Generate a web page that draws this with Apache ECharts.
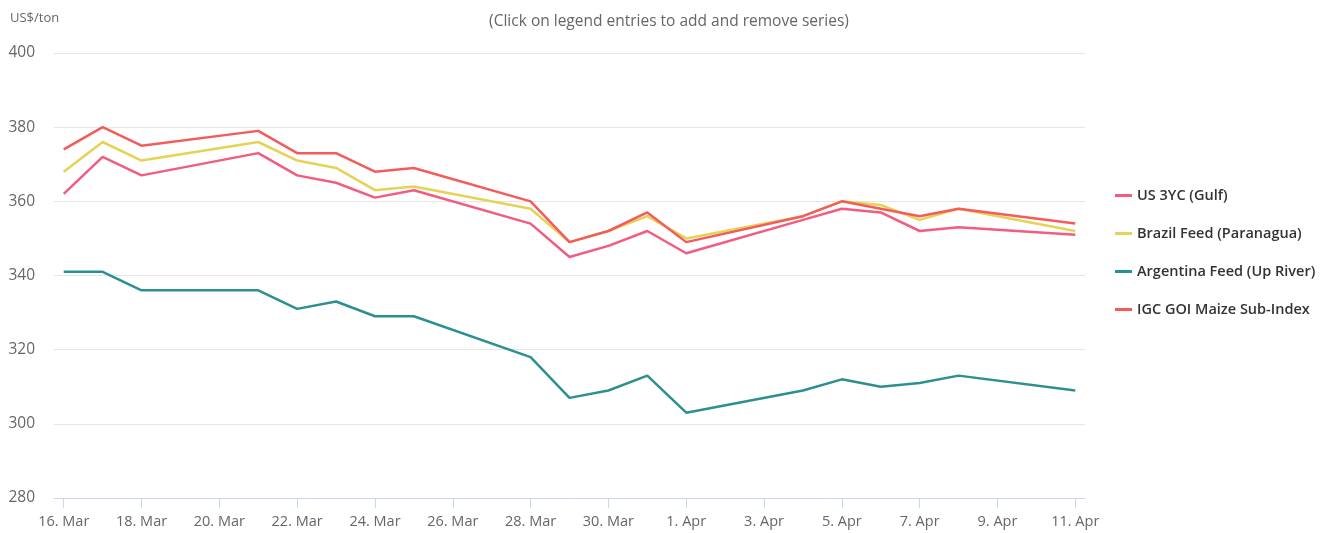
<!DOCTYPE html>
<html>
<head>
<meta charset="utf-8">
<script src="https://cdn.jsdelivr.net/npm/echarts@6/dist/echarts.min.js"></script>
<style>
  html, body { margin: 0; padding: 0; background: #fff; }
  #main { width: 1338px; height: 533px; }
</style>
</head>
<body>
<div id="main"></div>
<script>
// trading days shown in the chart
var dates = ['2022-03-16', '2022-03-17', '2022-03-18', '2022-03-21', '2022-03-22', '2022-03-23', '2022-03-24',
  '2022-03-25', '2022-03-28', '2022-03-29', '2022-03-30', '2022-03-31', '2022-04-01', '2022-04-04',
  '2022-04-05', '2022-04-06', '2022-04-07', '2022-04-08', '2022-04-11']
var usGulf = [362, 372, 367, 373, 367, 365, 361, 363, 354, 345, 348, 352, 346, 355, 358, 357, 352, 353, 351]
var brazilFeed = [368, 376, 371, 376, 371, 369, 363, 364, 358, 349, 352, 356, 350, 356, 360, 359, 355, 358, 352]
var argentinaFeed = [341, 341, 336, 336, 331, 333, 329, 329, 318, 307, 309, 313, 303, 309, 312, 310, 311, 313, 309]
var goiMaize = [374, 380, 375, 379, 373, 373, 368, 369, 360, 349, 352, 357, 349, 356, 360, 358, 356, 358, 354]
// x tick labels (every second day)
var tickDates = ['2022-03-16', '2022-03-18', '2022-03-20', '2022-03-22', '2022-03-24', '2022-03-26', '2022-03-28',
  '2022-03-30', '2022-04-01', '2022-04-03', '2022-04-05', '2022-04-07', '2022-04-09', '2022-04-11']
var months = ['Jan', 'Feb', 'Mar', 'Apr', 'May', 'Jun', 'Jul', 'Aug', 'Sep', 'Oct', 'Nov', 'Dec']

var FONT = '"Open Sans", sans-serif'
var DAY = 86400000

function ts(s) {
  var p = s.split('-')
  return Date.UTC(+p[0], +p[1] - 1, +p[2])
}
function pairs(vals) {
  return dates.map(function (d, i) { return [ts(d), vals[i]] })
}
function line(name, color, vals) {
  return {
    name: name,
    type: 'line',
    data: pairs(vals),
    showSymbol: false,
    symbol: 'none',
    lineStyle: { width: 2.5, color: color },
    itemStyle: { color: color },
    emphasis: { disabled: true }
  }
}

var tickValues = tickDates.map(ts)

var myChart = echarts.init(document.getElementById('main'))
var option = {
  animation: false,
  title: {
    text: '(Click on legend entries to add and remove series)',
    left: 'center',
    top: 9,
    textStyle: { fontFamily: FONT, fontSize: 15.5, fontWeight: 'normal', color: '#666' }
  },
  legend: {
    orient: 'vertical',
    left: 1110,
    top: 183,
    itemWidth: 17,
    itemHeight: 3,
    itemGap: 23,
    icon: 'rect',
    textStyle: { fontFamily: FONT, fontSize: 14.5, fontWeight: 600, color: '#333' },
    data: ['US 3YC (Gulf)', 'Brazil Feed (Paranagua)', 'Argentina Feed (Up River)', 'IGC GOI Maize Sub-Index']
  },
  grid: { left: 54, right: 253, top: 53, bottom: 35 },
  xAxis: {
    type: 'value',
    min: ts('2022-03-16') - 0.25 * DAY,
    max: ts('2022-04-11') + 0.25 * DAY,
    axisLine: { lineStyle: { color: '#ccd6eb' } },
    axisTick: { show: true, length: 10, lineStyle: { color: '#ccd6eb' }, customValues: tickValues },
    axisLabel: {
      customValues: tickValues,
      fontFamily: FONT, fontSize: 14.5, color: '#666', margin: 16,
      formatter: function (v) {
        var d = new Date(v)
        return d.getUTCDate() + '. ' + months[d.getUTCMonth()]
      }
    },
    splitLine: { show: false }
  },
  yAxis: {
    type: 'value',
    min: 280,
    max: 400,
    interval: 20,
    name: 'US$/ton',
    nameLocation: 'end',
    nameGap: 28,
    nameTextStyle: { fontFamily: FONT, fontSize: 13, color: '#666', align: 'left', padding: [0, 0, 0, -44] },
    axisLine: { show: false },
    axisTick: { show: false },
    axisLabel: { fontFamily: FONT, fontSize: 15.5, color: '#666', margin: 19, align: 'right' },
    splitLine: { lineStyle: { color: '#e6e6e6' } }
  },
  series: [
    line('US 3YC (Gulf)', '#f15c80', usGulf),
    line('Brazil Feed (Paranagua)', '#e4d354', brazilFeed),
    line('Argentina Feed (Up River)', '#2b908f', argentinaFeed),
    line('IGC GOI Maize Sub-Index', '#f45b5b', goiMaize)
  ]
}
myChart.setOption(option)
</script>
</body>
</html>
